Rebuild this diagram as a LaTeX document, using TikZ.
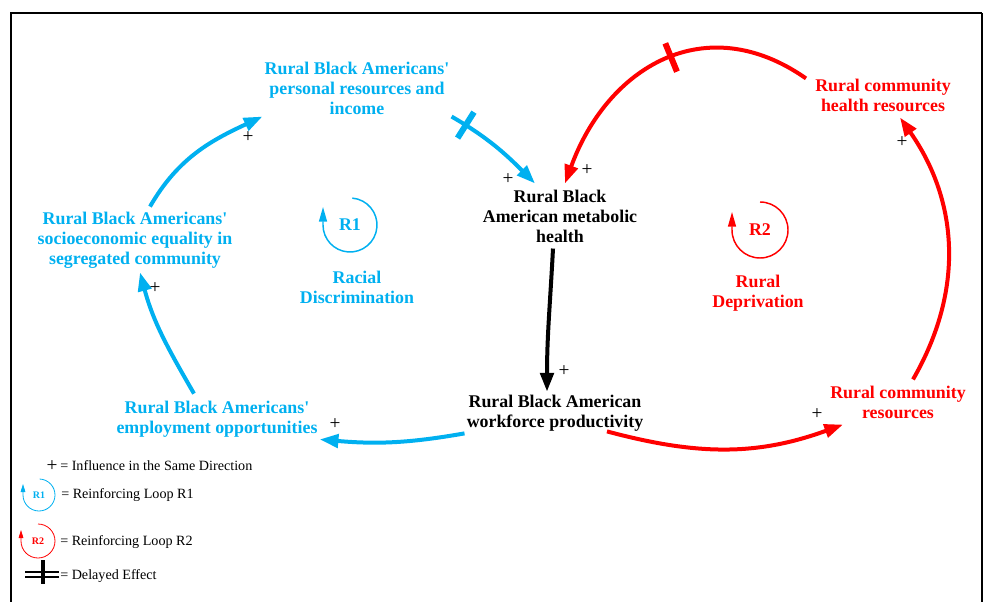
\documentclass[tikz,border=0pt]{standalone}
\usepackage{fontspec}
\setmainfont{Liberation Serif}
\usetikzlibrary{arrows.meta,calc}
\definecolor{raceBlue}{HTML}{00B0F0}
\definecolor{depRed}{HTML}{FF0000}

\begin{document}
\begin{tikzpicture}[x=0.75pt,y=0.75pt,>={Triangle[length=14pt,width=10pt]},
 var/.style={align=center,inner sep=1.5pt,font=\fontsize{13.4}{15}\selectfont\bfseries},
 link/.style={line width=3pt,->},
 delaybar/.style={sloped,fill,inner sep=0pt,minimum width=4.5pt,minimum height=23pt},
 sign/.style={inner sep=0pt,font=\fontsize{14.5}{15}\selectfont},
 looparc/.style={line width=1.1pt,-{Triangle[length=11pt,width=6pt]}},
 keyarc/.style={line width=.6pt,-{Triangle[length=6pt,width=3.5pt]}},
 legend/.style={anchor=west,inner sep=0pt,font=\fontsize{10.6}{12}\selectfont}]
\useasboundingbox (0,0) rectangle (984,-602);
\draw[line width=2.2pt] (11,-602)--(11,-13)--(982,-13);
\draw[line width=1.2pt] (982,-13)--(982,-602);
% variables of the two reinforcing loops
\node[var,raceBlue] (pers) at (357,-88) {Rural Black Americans\textquotesingle\\personal resources and\\income};
\node[var,raceBlue] (socio) at (135,-240) {Rural Black Americans\textquotesingle\\socioeconomic equality in\\segregated community};
\node[var,raceBlue] (employ) at (217,-419) {Rural Black Americans\textquotesingle\\employment opportunities};
\node[var] (meta) at (560,-216) {Rural Black\\American metabolic\\health};
\node[var] (work) at (555,-413) {Rural Black American\\workforce productivity};
\node[var,depRed] (hres) at (883,-95) {Rural community\\health resources};
\node[var,depRed] (cres) at (898,-402) {Rural community\\resources};
\node[var,raceBlue] (rone) at (350,-225) {R1};
\node[var,raceBlue] (racial) at (357,-287) {Racial\\Discrimination};
\node[var,depRed] (rtwo) at (760,-230) {R2};
\node[var,depRed] (depriv) at (758,-293) {Rural\\Deprivation};
\draw[looparc,raceBlue] (rone.center) ++(85:27) arc[start angle=85,end angle=-180,radius=27] -- ++(0,18);
\draw[looparc,depRed] (rtwo.center) ++(90:28) arc[start angle=90,end angle=-180,radius=28] -- ++(0,18);
\draw[link,raceBlue] (pers.south east) to[out=-30,in=135] node[delaybar,pos=.14]{} ($(meta.north)+(-25,4)$);
\draw[link] ($(meta.south)+(-7,-4)$) to[out=-93,in=90] ($(work.north)+(-8,1)$);
\draw[link,raceBlue] (work.south west) to[out=190,in=-5] (employ.south east);
\draw[link,raceBlue] ($(employ.north)+(-23,5)$) to[out=120,in=-75] ($(socio.south)+(5,-2)$);
\draw[link,raceBlue] ($(socio.north)+(15,3)$) to[out=60,in=205] (pers.south west);
\draw[link,depRed] ($(work.south)+(52,2)$) to[out=-15,in=200] ($(cres.south)+(-55,-4)$);
\draw[link,depRed] ($(cres.north)+(15,4)$) to[out=60,in=-55] ($(hres.south)+(17,-4)$);
\draw[link,depRed] ($(hres.north west)+(-7,-2)$) to[out=145,in=70,looseness=1.2] node[delaybar,pos=.47]{} ($(meta.north)+(5,4)$);
\foreach \x/\y [count=\i] in {508/179,564/371,335/424,155/288,248/137,817/414,902/142,587/170}
 \node[sign] (plus\i) at (\x,-\y) {+};
% key
\node[sign] (keyplus) at (52,-466) {+};
\node[legend] (keyinf) at (60,-466) {= Influence in the Same Direction};
\node[raceBlue,inner sep=0pt,font=\fontsize{7.5}{8}\selectfont\bfseries] (minirone) at (39,-495) {R1};
\draw[keyarc,raceBlue] (minirone.center) ++(88:16) arc[start angle=88,end angle=-180,radius=16] -- ++(0,11);
\node[legend] (keyrone) at (61,-495) {= Reinforcing Loop R1};
\node[depRed,inner sep=0pt,font=\fontsize{7.5}{8}\selectfont\bfseries] (minirtwo) at (38,-541) {R2};
\draw[keyarc,depRed] (minirtwo.center) ++(90:17) arc[start angle=90,end angle=-180,radius=17] -- ++(0,11);
\node[legend] (keyrtwo) at (60,-542) {= Reinforcing Loop R2};
\draw[line width=2.2pt] (25,-572)--(59,-572) (25,-577)--(59,-577);
\draw[line width=3pt] (43,-560)--(43,-584);
\node[legend] (keydelay) at (60,-576) {= Delayed Effect};
\end{tikzpicture}
\end{document}
